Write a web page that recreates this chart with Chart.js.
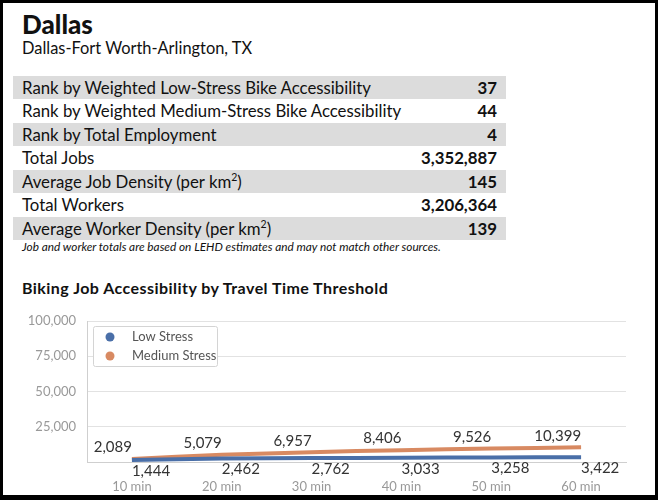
<!DOCTYPE html>
<html>
<head>
<meta charset="utf-8">
<script src="https://cdn.jsdelivr.net/npm/chart.js@4"></script>
<style>
  html, body { margin: 0; padding: 0; background: #fff; }
  body { width: 658px; height: 500px; position: relative; overflow: hidden; font-family: Lato, "Noto Sans", sans-serif; color: #111; }
  #frame { position: absolute; left: 0; top: 0; width: 658px; height: 500px; box-sizing: border-box; border: 3px solid #000; border-bottom-width: 5px; }
  #city { position: absolute; left: 22px; top: 9px; font-size: 26px; font-weight: 900; line-height: 30px; margin: 0; }
  #metro { position: absolute; left: 22px; top: 38px; font-size: 16.4px; line-height: 20px; }
  #stats { position: absolute; left: 13px; top: 76px; width: 493px; }
  .row { height: 23.45px; line-height: 23.45px; font-size: 16.8px; display: flex; justify-content: space-between; padding: 0 9px; box-sizing: border-box; }
  .row:nth-child(odd) { background: #dcdcdc; }
  .row b { font-weight: 700; }
  .row sup { font-size: 10.5px; line-height: 0; }
  #note { position: absolute; left: 22px; top: 240px; font-size: 11.8px; font-style: italic; line-height: 14px; }
  #chartTitle { position: absolute; left: 22px; top: 279px; font-size: 16px; font-weight: 700; line-height: 18px; letter-spacing: 0.45px; }
  #wrap { position: absolute; left: 3px; top: 300px; width: 652px; height: 192px; }
</style>
</head>
<body>
<div id="frame"></div>
<h1 id="city">Dallas</h1>
<div id="metro">Dallas-Fort Worth-Arlington, TX</div>
<div id="stats"></div>
<div id="note">Job and worker totals are based on LEHD estimates and may not match other sources.</div>
<div id="chartTitle">Biking Job Accessibility by Travel Time Threshold</div>
<div id="wrap"><canvas id="chart"></canvas></div>
<script>
const statLabels = [
    'Rank by Weighted Low-Stress Bike Accessibility',
    'Rank by Weighted Medium-Stress Bike Accessibility',
    'Rank by Total Employment',
    'Total Jobs',
    'Average Job Density (per km<sup>2</sup>)',
    'Total Workers',
    'Average Worker Density (per km<sup>2</sup>)'
];
const statValues = ['37', '44', '4', '3,352,887', '145', '3,206,364', '139'];

const thresholds = ['10 min', '20 min', '30 min', '40 min', '50 min', '60 min'];
const lowStress = [1444, 2462, 2762, 3033, 3258, 3422];
const mediumStress = [2089, 5079, 6957, 8406, 9526, 10399];
const yTicks = [25000, 50000, 75000, 100000];

const statsBox = document.getElementById('stats');
statLabels.forEach((label, i) => {
    statsBox.innerHTML += `<div class="row"><span>${label}</span><b>${statValues[i]}</b></div>`;
});

const fmt = v => v.toLocaleString('en-US');

// values next to each point, above or below the line
const pointValues = {
    id: 'pointValues',
    afterDraw(chart) {
        const ctx = chart.ctx;
        ctx.save();
        ctx.font = '15px Lato';
        ctx.fillStyle = '#333';
        ctx.textBaseline = 'middle';
        chart.data.datasets.forEach((ds, di) => {
            const meta = chart.getDatasetMeta(di);
            ctx.textAlign = ds.valueAlign;
            meta.data.forEach((pt, i) => {
                ctx.fillText(fmt(ds.data[i]), pt.x, pt.y + ds.valueShift);
            });
        });
        ctx.restore();
    }
};

// legend box drawn inside the plot area
const insideLegend = {
    id: 'insideLegend',
    afterDraw(chart) {
        const ctx = chart.ctx;
        const a = chart.chartArea;
        const x = a.left + 6, y = a.top + 5, w = 124, h = 40;
        ctx.save();
        ctx.fillStyle = '#fff';
        ctx.strokeStyle = '#d4d4d4';
        ctx.lineWidth = 1;
        ctx.beginPath();
        ctx.roundRect(x + 0.5, y + 0.5, w, h, 2);
        ctx.fill();
        ctx.stroke();
        ctx.font = '13px Lato';
        ctx.textBaseline = 'middle';
        ctx.textAlign = 'left';
        chart.data.datasets.forEach((ds, i) => {
            const cy = y + 11 + i * 19;
            ctx.fillStyle = ds.borderColor;
            ctx.beginPath();
            ctx.arc(x + 17, cy, 4.5, 0, Math.PI * 2);
            ctx.fill();
            ctx.fillStyle = '#555';
            ctx.fillText(ds.label, x + 39, cy);
        });
        ctx.restore();
    }
};

new Chart(document.getElementById('chart'), {
    type: 'line',
    data: {
        labels: thresholds,
        datasets: [
            {
                label: 'Low Stress',
                data: lowStress,
                borderColor: '#4a6fa8',
                backgroundColor: '#4a6fa8',
                borderWidth: 4,
                pointRadius: 0,
                tension: 0.3,
                valueAlign: 'left',
                valueShift: 11
            },
            {
                label: 'Medium Stress',
                data: mediumStress,
                borderColor: '#d88a62',
                backgroundColor: '#d88a62',
                borderWidth: 4,
                pointRadius: 0,
                tension: 0.3,
                valueAlign: 'right',
                valueShift: -11.5
            }
        ]
    },
    options: {
        responsive: true,
        maintainAspectRatio: false,
        animation: false,
        layout: { padding: { top: 21, right: 29, left: 0, bottom: 0 } },
        plugins: {
            legend: { display: false },
            tooltip: { enabled: false }
        },
        scales: {
            x: {
                offset: true,
                grid: { display: false },
                border: { display: true, color: '#cfcfcf' },
                ticks: { color: '#999', font: { family: 'Lato', size: 13 }, padding: 9, maxRotation: 0 },
                afterFit: s => { s.height = 30; }
            },
            y: {
                min: 0,
                max: 100000,
                grid: { color: '#e2e2e2', drawTicks: false },
                border: { display: true, color: '#cfcfcf' },
                ticks: { color: '#999', font: { family: 'Lato', size: 13 }, padding: 11, callback: v => fmt(v) },
                afterBuildTicks: s => { s.ticks = yTicks.map(v => ({ value: v })); },
                afterFit: s => { s.width = 84; }
            }
        }
    },
    plugins: [pointValues, insideLegend]
});
</script>
</body>
</html>
